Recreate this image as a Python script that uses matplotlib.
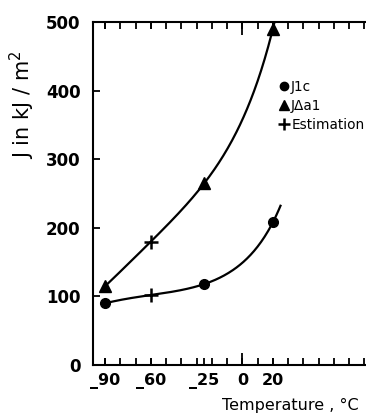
import numpy as np
import matplotlib.pyplot as plt
from matplotlib.lines import Line2D

# values
temp = [-90, -60, -25, 20]
j_ic = [90, 102, 118, 208]          # lower curve (J1c, with estimate at -60)
j_da = [115, 180, 265, 490]         # upper curve (JΔa1, with estimate at -60)
xtick_pos = [-90, -60, -25, 0, 20]
xtick_lab = ['_90', '_60', '_25', '0', '20']
ytick_pos = [0, 100, 200, 300, 400, 500]

fig = plt.figure(figsize=(3.66, 4.19), dpi=100)
ax = fig.add_axes([93/366, 54/419, 282/366, 343/419])

# smooth curves through the points (cubic in log space)
c_lo = np.polyfit(temp, np.log(j_ic), 3)
c_hi = np.polyfit(temp, np.log(j_da), 3)
t_lo = np.linspace(temp[0], temp[-1] + 5, 200)
t_hi = np.linspace(temp[0], temp[-1] + 5, 200)
ax.plot(t_lo, np.exp(np.polyval(c_lo, t_lo)), color='black', lw=1.6)
ax.plot(t_hi, np.exp(np.polyval(c_hi, t_hi)), color='black', lw=1.6)

# measured points
meas = [0, 2, 3]
ax.plot([temp[i] for i in meas], [j_ic[i] for i in meas], 'o', color='black', ms=7, clip_on=False)
ax.plot([temp[i] for i in meas], [j_da[i] for i in meas], '^', color='black', ms=8, clip_on=False)
# estimations
ax.plot([temp[1]], [j_ic[1]], '+', color='black', ms=10, mew=1.8)
ax.plot([temp[1]], [j_da[1]], '+', color='black', ms=10, mew=1.8)

ax.set_xlim(-98, 87)
ax.set_ylim(0, 500)

ax.set_xticks(xtick_pos)
ax.set_xticklabels(xtick_lab, fontsize=11.5, fontweight='bold')
ax.set_xticks(np.arange(-90, 81, 10), minor=True)
ax.set_yticks(ytick_pos)
ax.set_yticklabels([str(v) for v in ytick_pos], fontsize=12, fontweight='bold')
ax.tick_params(axis='x', which='both', direction='in', top=True, length=5, width=1.3, pad=6)
ax.tick_params(axis='y', direction='in', right=True, length=5, width=1.3, pad=9)
ax.tick_params(axis='y', which='minor', left=False, right=False)
ax.xaxis.remove_overlapping_locs = False
for tk, v in zip(ax.xaxis.get_major_ticks(), xtick_pos):
    if v == 0:
        tk.tick1line.set_markersize(9)
        tk.tick2line.set_markersize(9)
    if v == -25:
        tk.tick2line.set_visible(False)
for s in ax.spines.values():
    s.set_linewidth(1.5)

handles = [
    Line2D([], [], marker='o', color='black', ls='none', ms=6),
    Line2D([], [], marker='^', color='black', ls='none', ms=7),
    Line2D([], [], marker='+', color='black', ls='none', ms=9, mew=1.8),
]
ax.legend(handles, ['J1c', 'JΔa1', 'Estimation'], loc='upper left',
          bbox_to_anchor=(0.64, 0.85), frameon=False, fontsize=9.8,
          handlelength=0.6, handletextpad=0.2, labelspacing=0.35, borderpad=0)

fig.text(22/366, 1 - 105/419, 'J in kJ / m$^2$', rotation=90, fontsize=15,
         ha='center', va='center')
fig.text(222/366, 1 - 405/419, 'Temperature , °C', fontsize=11.5,
         ha='left', va='center')

fig.savefig('out.png', dpi=100, facecolor='white')
